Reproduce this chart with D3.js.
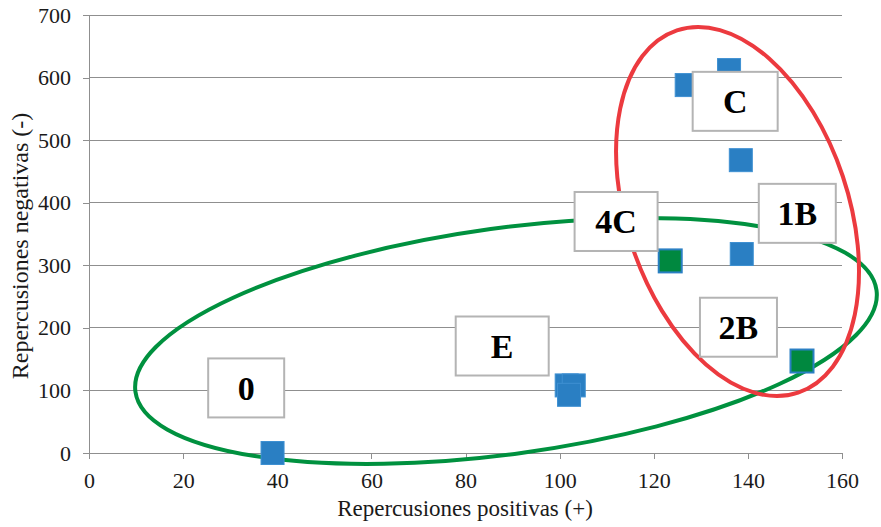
<!DOCTYPE html>
<html>
<head>
<meta charset="utf-8">
<script src="https://cdn.jsdelivr.net/npm/d3@7"></script>
<style>
  html, body { margin: 0; padding: 0; background: #fff; }
  svg { display: block; }
  text { font-family: "Liberation Serif", "Times New Roman", serif; }
</style>
</head>
<body>
<svg id="chart" width="881" height="527"></svg>
<script>
// Scatter values: [positivas, negativas]
const bluePoints = [
  [39, 0],
  [101.5, 108],
  [103, 108],
  [102, 93],
  [127, 588],
  [136, 612],
  [138.5, 468],
  [138.7, 318]
];
const greenPoints = [
  [123.5, 307],
  [151.5, 147]
];

const xTicks = [0, 20, 40, 60, 80, 100, 120, 140, 160];
const yTicks = [0, 100, 200, 300, 400, 500, 600, 700];

// Group labels placed at data coordinates
const labelNames = ["0", "E", "4C", "1B", "C", "2B"];
const labelX = [33.4, 87.8, 112, 150.5, 137.3, 138];
const labelY = [104, 171, 370, 383, 562, 201];
const labelW = [76, 93, 83, 77, 85, 77];

// Cluster outlines (centre in data units, radii in px, rotation in degrees)
const groups = [
  { cx: 88.6, cy: 179, rx: 374, ry: 113, rot: -7.8, color: "#00913f" },
  { cx: 137.8, cy: 386, rx: 191, ry: 111, rot: 71.5, color: "#ec3a3f" }
];

const W = 881, H = 527;
const margin = { top: 15, right: 39, bottom: 74, left: 89 };
const svg = d3.select("#chart");

const x = d3.scaleLinear().domain([0, 160]).range([margin.left, W - margin.right]);
const y = d3.scaleLinear().domain([0, 700]).range([H - margin.bottom, margin.top]);

const gridColor = "#8f8f8f";

// horizontal gridlines
svg.append("g")
  .selectAll("line")
  .data(yTicks.filter(d => d > 0))
  .join("line")
  .attr("x1", x(0)).attr("x2", x(160))
  .attr("y1", d => y(d)).attr("y2", d => y(d))
  .attr("stroke", gridColor).attr("stroke-width", 1)
  .attr("shape-rendering", "crispEdges");

// axes
const xAxis = svg.append("g")
  .attr("transform", `translate(0,${y(0)})`)
  .call(d3.axisBottom(x).tickValues(xTicks).tickSize(6).tickPadding(13).tickSizeOuter(0));
const yAxis = svg.append("g")
  .attr("transform", `translate(${x(0)},0)`)
  .call(d3.axisLeft(y).tickValues(yTicks).tickSize(6).tickPadding(12).tickSizeOuter(0));

[xAxis, yAxis].forEach(g => {
  g.select(".domain").attr("stroke", gridColor).attr("shape-rendering", "crispEdges");
  g.selectAll(".tick line").attr("stroke", gridColor).attr("shape-rendering", "crispEdges");
  g.selectAll(".tick text")
    .attr("font-family", "Liberation Serif, Times New Roman, serif")
    .attr("font-size", 22)
    .attr("fill", "#1a1a1a");
});

// axis titles
svg.append("text")
  .attr("x", 465)
  .attr("y", 516)
  .attr("text-anchor", "middle")
  .attr("font-size", 23)
  .attr("fill", "#1a1a1a")
  .text("Repercusiones positivas (+)");

svg.append("text")
  .attr("transform", "translate(28,246) rotate(-90)")
  .attr("text-anchor", "middle")
  .attr("font-size", 24)
  .attr("fill", "#1a1a1a")
  .text("Repercusiones negativas (-)");

// cluster ellipses
svg.append("g")
  .selectAll("ellipse")
  .data(groups)
  .join("ellipse")
  .attr("transform", d => `translate(${x(d.cx)},${y(d.cy)}) rotate(${d.rot})`)
  .attr("rx", d => d.rx).attr("ry", d => d.ry)
  .attr("fill", "none")
  .attr("stroke", d => d.color)
  .attr("stroke-width", 4);

// markers
const size = 23;
svg.append("g")
  .selectAll("rect")
  .data(bluePoints)
  .join("rect")
  .attr("x", d => x(d[0]) - size / 2)
  .attr("y", d => y(d[1]) - size / 2)
  .attr("width", size).attr("height", size)
  .attr("fill", "#2a7fc3")
  .attr("stroke", "#3e90d2").attr("stroke-width", 1);

svg.append("g")
  .selectAll("rect")
  .data(greenPoints)
  .join("rect")
  .attr("x", d => x(d[0]) - size / 2)
  .attr("y", d => y(d[1]) - size / 2)
  .attr("width", size).attr("height", size)
  .attr("fill", "#00883f")
  .attr("stroke", "#2a7fc3").attr("stroke-width", 2);

// label boxes
const boxH = 59;
const labels = svg.append("g")
  .selectAll("g")
  .data(labelNames.map((n, i) => ({ name: n, lx: labelX[i], ly: labelY[i], w: labelW[i] })))
  .join("g")
  .attr("transform", d => `translate(${x(d.lx)},${y(d.ly)})`);

labels.append("rect")
  .attr("x", d => -d.w / 2).attr("y", -boxH / 2)
  .attr("width", d => d.w).attr("height", boxH)
  .attr("fill", "#fff")
  .attr("stroke", "#b4b4b4").attr("stroke-width", 2);

labels.append("text")
  .attr("text-anchor", "middle")
  .attr("dy", "0.35em")
  .attr("font-size", 34)
  .attr("font-weight", "bold")
  .attr("fill", "#000")
  .text(d => d.name);
</script>
</body>
</html>
